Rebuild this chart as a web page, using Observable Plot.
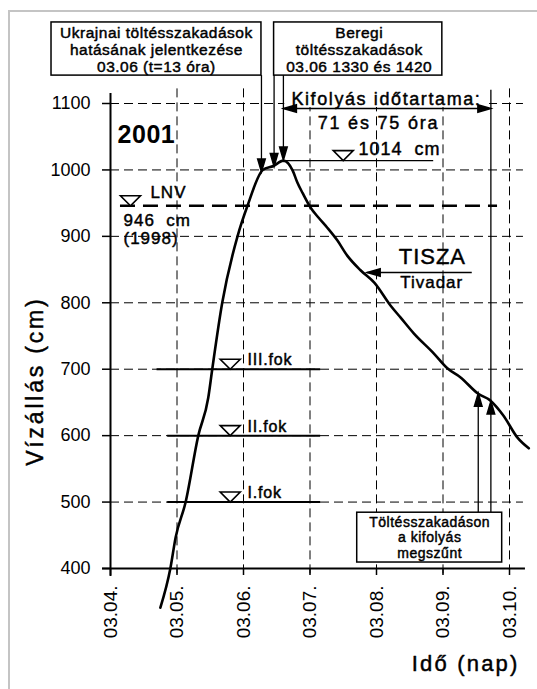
<!DOCTYPE html>
<html>
<head>
<meta charset="utf-8">
<script src="https://cdn.jsdelivr.net/npm/d3@7"></script>
<script src="https://cdn.jsdelivr.net/npm/@observablehq/plot@0.6"></script>
<style>
  html, body { margin: 0; padding: 0; background: #fff; overflow: hidden; }
  #frame { position: absolute; left: 8px; top: 10px; width: 700px; height: 900px; border: 2px solid #c4c4c4; }
  #chart { position: absolute; left: 0; top: 0; }
  #chart svg { background: transparent; }
</style>
</head>
<body>
<div id="frame"></div>
<div id="chart"></div>
<script>
// ---- Data (days after 03.04. 00h, water level in cm) ----
const days   = [0.75, 0.90, 0.98, 1.13, 1.32, 1.47, 1.53, 1.68, 1.91, 2.06, 2.29, 2.45, 2.60, 2.74, 2.81, 2.89, 3.01, 3.13, 3.26, 3.41, 3.56, 3.76, 3.97, 4.21, 4.36, 4.56, 4.86, 5.07, 5.26, 5.53, 5.71, 5.91, 6.12, 6.29];
const levels = [341, 400, 447, 500, 600, 657, 700, 800, 900, 946, 1000, 1006, 1014, 999, 981, 965, 943, 928, 913, 894, 871, 849, 830, 796, 778, 754, 724, 701, 688, 663, 653, 630, 597, 581];

const xTicks = [0, 1, 2, 3, 4, 5, 6];
const xTickLabels = ["03.04.", "03.05.", "03.06.", "03.07.", "03.08.", "03.09.", "03.10."];
const yTicks = [400, 500, 600, 700, 800, 900, 1000, 1100];

const alarmLevels = [500, 600, 700];
const alarmLabels = ["I.fok", "II.fok", "III.fok"];
const peakLevel = 1014;
const lnvLevel = 946;

const series = days.map((d, i) => ({day: d, level: levels[i]}));

// custom symbols
const headUp = { draw(ctx) { ctx.moveTo(0, 0); ctx.lineTo(-3.8, 13); ctx.lineTo(3.8, 13); ctx.closePath(); } };
const levelMark = { draw(ctx) { ctx.moveTo(0, 0); ctx.lineTo(-10, -10); ctx.lineTo(10, -10); ctx.closePath(); } };

const F = "Liberation Sans, Arial, sans-serif";
const T = {stroke: "#000", strokeWidth: 0.45, fill: "#000"};

const chart = Plot.plot({
  width: 537, height: 689,
  marginLeft: 110, marginRight: 28, marginTop: 103, marginBottom: 121,
  x: {domain: [0, 6]},
  y: {domain: [400, 1100]},
  style: {fontFamily: F, background: "transparent", color: "#000"},
  marks: [
    // grid
    Plot.ruleX(xTicks.slice(1), {y1: 1122, y2: 390, stroke: "#000", strokeWidth: 1, strokeDasharray: "9,5"}),
    Plot.ruleY(yTicks.slice(1), {x1: 0, x2: 6.21, stroke: "#000", strokeWidth: 1, strokeDasharray: "9,5"}),
    // axes lines
    Plot.ruleX([0], {y1: 1115, y2: 388, stroke: "#000", strokeWidth: 2}),
    Plot.ruleY([400], {x1: -0.12, x2: 6.24, stroke: "#000", strokeWidth: 2}),
    Plot.axisY({ticks: yTicks, tickFormat: d => String(d), tickSize: 8, tickPadding: 12, fontSize: 18, label: null, strokeWidth: 1.5}),
    Plot.axisX({ticks: xTicks, tickFormat: (d, i) => xTickLabels[i], tickSize: 7, tickPadding: 10, tickRotate: -90, fontSize: 19, label: null, strokeWidth: 1.5}),

    // white area behind outflow title
    Plot.rect([0], {x1: 2.62, x2: 5.70, y1: 1094, y2: 1124, fill: "white"}),

    // alarm levels
    Plot.ruleY(alarmLevels, {x1: d => d === 700 ? 0.70 : 0.86, x2: 3.16, stroke: "#000", strokeWidth: 2}),
    Plot.dot(alarmLevels, {x: 1.80, y: d => d, symbol: levelMark, r: 5, fill: "white", stroke: "#000", strokeWidth: 1.6}),
    Plot.text(alarmLevels, {x: 2.06, y: d => d, text: (d, i) => alarmLabels[i], textAnchor: "start", lineAnchor: "bottom", dy: -4, fontSize: 16, ...T}),

    // LNV
    Plot.ruleY([lnvLevel], {x1: 0.15, x2: 5.82, stroke: "#000", strokeWidth: 2.6, strokeDasharray: "15,8"}),
    Plot.dot([lnvLevel], {x: 0.30, y: d => d, symbol: levelMark, r: 5, fill: "white", stroke: "#000", strokeWidth: 1.6}),
    Plot.text(["LNV"], {x: 0.60, y: 957, text: d => d, textAnchor: "start", lineAnchor: "bottom", fontSize: 17, ...T}),
    Plot.text(["946  cm", "(1998)"], {x: 0.195, y: (d, i) => i === 0 ? 916 : 889, text: d => d, textAnchor: "start", lineAnchor: "bottom", fontSize: 17, ...T}),

    // peak
    Plot.ruleY([peakLevel], {x1: 2.60, x2: 4.86, stroke: "#000", strokeWidth: 1.3}),
    Plot.dot([peakLevel], {x: 3.50, y: d => d, symbol: levelMark, r: 5, fill: "white", stroke: "#000", strokeWidth: 1.6}),
    Plot.text(["1014  cm"], {x: 3.73, y: 1022, text: d => d, textAnchor: "start", lineAnchor: "bottom", fontSize: 18, ...T}),

    // 2001
    Plot.text(["2001"], {x: 0.54, y: 1040, text: d => d, lineAnchor: "bottom", fontSize: 25, fontWeight: "bold"}),

    // hydrograph
    Plot.line(series, {x: "day", y: "level", stroke: "#000", strokeWidth: 2.6, curve: "monotone-x"}),

    // TISZA label
    Plot.text(["TISZA"], {x: 4.84, y: 859, text: d => d, lineAnchor: "bottom", fontSize: 22, ...T}),
    Plot.ruleY([845.6], {x1: 3.86, x2: 5.44, stroke: "#000", strokeWidth: 1.3}),
    Plot.dot([845.6], {x: 3.86, y: d => d, symbol: headUp, r: 5, rotate: -90, fill: "#000", stroke: "#000"}),
    Plot.text(["Tivadar"], {x: 4.83, y: 823, text: d => d, lineAnchor: "bottom", fontSize: 17, ...T}),

    // top boxes
    Plot.rect([0], {x1: -0.887, x2: 2.27, y1: 1142, y2: 1222, fill: "white", stroke: "#000", strokeWidth: 1.5}),
    Plot.text(["Ukrajnai töltésszakadások\nhatásának jelentkezése\n03.06 (t=13 óra)"], {x: 0.69, y: 1181, text: d => d, fontSize: 15.5, lineHeight: 1.1, ...T}),
    Plot.rect([0], {x1: 2.46, x2: 4.99, y1: 1142, y2: 1222, fill: "white", stroke: "#000", strokeWidth: 1.5}),
    Plot.text(["Beregi\ntöltésszakadások\n03.06 1330 és 1420"], {x: 3.74, y: 1181, text: d => d, fontSize: 15.5, lineHeight: 1.1, ...T}),

    // leader arrows from boxes
    Plot.ruleX([2.27], {y1: 1142, y2: 1004, stroke: "#000", strokeWidth: 1.3}),
    Plot.ruleX([2.46], {y1: 1142, y2: 1013, stroke: "#000", strokeWidth: 1.3}),
    Plot.ruleX([2.60], {y1: 1142, y2: 1022, stroke: "#000", strokeWidth: 1.3}),
    Plot.dot([[2.27, 997], [2.46, 1005], [2.60, 1015]], {x: d => d[0], y: d => d[1], symbol: headUp, r: 5, rotate: 180, fill: "#000", stroke: "#000"}),

    // outflow duration
    Plot.text(["Kifolyás időtartama:"], {x: 2.72, y: 1098, text: d => d, textAnchor: "start", lineAnchor: "bottom", fontSize: 18, ...T}),
    Plot.ruleY([1092.5], {x1: 2.62, x2: 5.70, stroke: "#000", strokeWidth: 1.3}),
    Plot.dot([[2.60, -90], [5.72, 90]], {x: d => d[0], y: 1092.5, symbol: headUp, r: 5, rotate: d => d[1], fill: "#000", stroke: "#000"}),
    Plot.text(["71 és 75 óra"], {x: 4.03, y: 1061, text: d => d, lineAnchor: "bottom", fontSize: 18, ...T}),
    Plot.ruleX([5.72], {y1: 1120, y2: 484, stroke: "#000", strokeWidth: 1.3}),
    Plot.ruleX([5.53], {y1: 660, y2: 484, stroke: "#000", strokeWidth: 1.3}),
    Plot.dot([[5.53, 664], [5.72, 652]], {x: d => d[0], y: d => d[1], symbol: headUp, r: 5, fill: "#000", stroke: "#000"}),

    // bottom box
    Plot.rect([0], {x1: 3.71, x2: 5.89, y1: 409, y2: 484, fill: "white", stroke: "#000", strokeWidth: 1.5}),
    Plot.text(["Töltésszakadáson\na kifolyás\nmegszűnt"], {x: 4.80, y: 446.5, text: d => d, fontSize: 14, lineHeight: 1.08, ...T}),

    // axis titles
    Plot.text(["Vízállás (cm)"], {x: -1.13, y: 682, text: d => d, rotate: -90, fontSize: 23, ...T}),
    Plot.text(["Idő (nap)"], {x: 5.34, y: 246, text: d => d, lineAnchor: "bottom", fontSize: 22, ...T})
  ]
});

document.getElementById("chart").appendChild(chart);
const spacing = {
  "Kifolyás időtartama:": 1.6, "71 és 75 óra": 1.8, "Vízállás (cm)": 2.8, "Idő (nap)": 2.2,
  "TISZA": 1, "Tivadar": 1, "1014  cm": 1, "LNV": 1, "946  cm": 1, "(1998)": 1,
  "I.fok": 0.8, "II.fok": 0.8, "III.fok": 0.8
};
d3.select(chart).selectAll('g[aria-label="text"] text').each(function() {
  const t = this.textContent;
  const s = spacing[t];
  this.setAttribute("letter-spacing", s != null ? s : 0.5);
});
</script>
</body>
</html>
